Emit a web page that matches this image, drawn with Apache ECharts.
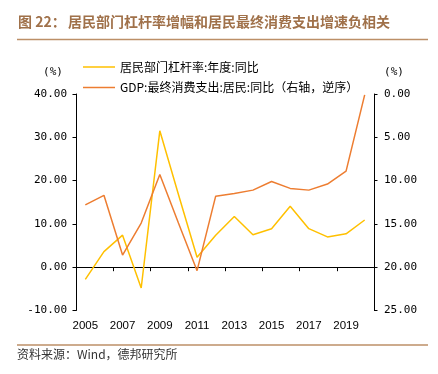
<!DOCTYPE html>
<html>
<head>
<meta charset="utf-8">
<script src="https://cdn.jsdelivr.net/npm/echarts@6/dist/echarts.min.js"></script>
<style>
html,body{margin:0;padding:0;background:#fff;}
#chart{width:438px;height:374px;}
</style>
</head>
<body>
<div id="chart"></div>
<script>
const years = ['2005','2006','2007','2008','2009','2010','2011','2012','2013','2014','2015','2016','2017','2018','2019','2020'];
const leverageYoY = [-2.8, 3.6, 7.4, -4.8, 31.5, 16.8, 2.3, 7.4, 11.7, 7.5, 8.9, 14.1, 8.9, 7.0, 7.7, 10.9];
const consumptionYoY = [12.8, 11.7, 18.6, 14.9, 9.3, 14.9, 20.4, 11.8, 11.5, 11.1, 10.1, 10.9, 11.1, 10.4, 8.9, 0.1];
const leftTicks = {min: -10, max: 40, interval: 10};
const rightTicks = {min: 0, max: 25, interval: 5};
const seriesNames = ['居民部门杠杆率:年度:同比', 'GDP:最终消费支出:居民:同比（右轴，逆序）'];
const titlePrefix = '图 22：';
const titleText = '居民部门杠杆率增幅和居民最终消费支出增速负相关';
const sourceText = '资料来源：Wind，德邦研究所';

const chart = echarts.init(document.getElementById('chart'), null, {renderer: 'canvas'});
const cjk = '"Noto Sans CJK SC", sans-serif';
const numFont = '"DejaVu Sans Mono", monospace';
const axisColor = '#000';
chart.setOption({
  animation: false,
  backgroundColor: '#fff',
  grid: {left: 76, right: 64, top: 94, bottom: 63.5, containLabel: false},
  graphic: [
    {type: 'text', left: 18, top: 15, style: {text: titlePrefix, font: 'bold 14px ' + cjk, fill: '#A0714A'}},
    {type: 'text', left: 68, top: 15, style: {text: titleText, font: 'bold 14px ' + cjk, fill: '#A0714A'}},
    {type: 'line', shape: {x1: 17, y1: 39.5, x2: 428, y2: 39.5}, style: {stroke: '#BC8F67', lineWidth: 1.5}},
    {type: 'line', shape: {x1: 17, y1: 345, x2: 428, y2: 345}, style: {stroke: '#BC8F67', lineWidth: 1.5}},
    {type: 'text', left: 17, top: 348, style: {text: sourceText, font: '12px ' + cjk, fill: '#333'}},
    {type: 'text', x: 53, y: 72, style: {text: '(%)', font: '11px ' + numFont, fill: '#000', align: 'center', verticalAlign: 'middle'}},
    {type: 'text', x: 394, y: 72, style: {text: '(%)', font: '11px ' + numFont, fill: '#000', align: 'center', verticalAlign: 'middle'}}
  ],
  legend: {
    orient: 'vertical',
    left: 78,
    top: 56,
    itemWidth: 32,
    itemHeight: 14,
    itemGap: 8.5,
    icon: 'path://M0,7 L32,7 L32,8.5 L0,8.5 Z',
    textStyle: {fontFamily: cjk, fontSize: 12, color: '#000', padding: [0, 0, 0, 0]},
    data: seriesNames
  },
  xAxis: {
    type: 'category',
    data: years,
    boundaryGap: true,
    axisLine: {onZero: true, onZeroAxisIndex: 0, lineStyle: {color: axisColor, width: 1}},
    axisTick: {show: true, interval: 1, length: 4, lineStyle: {color: axisColor}},
    axisLabel: {interval: 1, color: '#000', fontFamily: '"Liberation Sans", Arial, sans-serif', fontSize: 11.5, margin: 9,
      formatter: v => v},
    splitLine: {show: false}
  },
  yAxis: [
    {
      type: 'value', position: 'left',
      min: leftTicks.min, max: leftTicks.max, interval: leftTicks.interval,
      axisLine: {show: true, lineStyle: {color: axisColor, width: 1}},
      axisTick: {show: true, length: 3.5, lineStyle: {color: axisColor}},
      axisLabel: {color: '#000', fontFamily: numFont, fontSize: 11, margin: 9, formatter: v => v.toFixed(2)},
      splitLine: {show: false}
    },
    {
      type: 'value', position: 'right', inverse: true,
      min: rightTicks.min, max: rightTicks.max, interval: rightTicks.interval,
      axisLine: {show: true, lineStyle: {color: axisColor, width: 1}},
      axisTick: {show: true, length: 3.5, lineStyle: {color: axisColor}},
      axisLabel: {color: '#000', fontFamily: numFont, fontSize: 11, margin: 10, formatter: v => v.toFixed(2)},
      splitLine: {show: false}
    }
  ],
  series: [
    {name: seriesNames[0], type: 'line', yAxisIndex: 0, data: leverageYoY, symbol: 'none',
      lineStyle: {color: '#FFC000', width: 1.5}, itemStyle: {color: '#FFC000'}},
    {name: seriesNames[1], type: 'line', yAxisIndex: 1, data: consumptionYoY, symbol: 'none',
      lineStyle: {color: '#ED7D31', width: 1.5}, itemStyle: {color: '#ED7D31'}}
  ]
});
</script>
</body>
</html>
